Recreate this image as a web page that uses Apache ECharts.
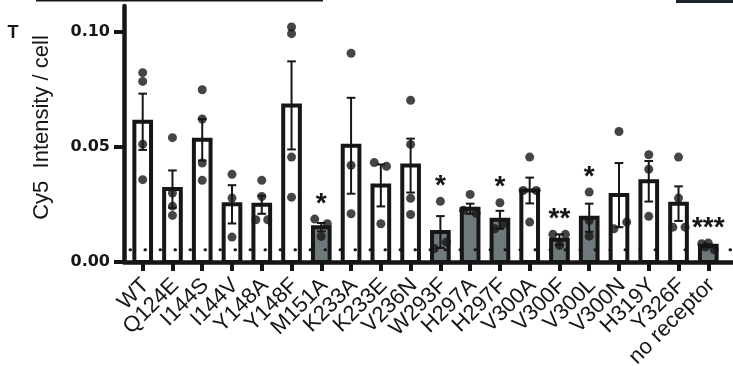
<!DOCTYPE html>
<html>
<head>
<meta charset="utf-8">
<script src="https://cdn.jsdelivr.net/npm/echarts@6/dist/echarts.min.js"></script>
<style>
  html, body { margin: 0; padding: 0; background: #ffffff; }
  #chart { width: 733px; height: 366px; }
</style>
</head>
<body>
<div id="chart"></div>
<script>
// Receptor variants along the x axis
const categories = ['WT', 'Q124E', 'I144S', 'I144V', 'Y148A', 'Y148F', 'M151A', 'K233A', 'K233E', 'V236N',
  'W293F', 'H297A', 'H297F', 'V300A', 'V300F', 'V300L', 'V300N', 'H319Y', 'Y326F', 'no receptor'];

// Mean Cy5 intensity per cell and its SEM
const means = [0.0608, 0.0316, 0.0530, 0.0250, 0.0248, 0.0679, 0.0151, 0.0504, 0.0332, 0.0418,
  0.0130, 0.0231, 0.0183, 0.0310, 0.0097, 0.0192, 0.0290, 0.0350, 0.0253, 0.0070];
const sems = [0.0122, 0.0081, 0.0090, 0.0083, 0.0039, 0.0191, 0.0018, 0.0208, 0.0091, 0.0117,
  0.0069, 0.0022, 0.0039, 0.0056, 0.0023, 0.0061, 0.0139, 0.0088, 0.0075, 0.0006];

// Variants that differ significantly from WT (shaded bars)
const shaded = [false, false, false, false, false, false, true, false, false, false,
  true, true, true, false, true, true, false, false, false, true];

// Individual replicates per variant
const replicates = [
  [0.0821, 0.0783, 0.0511, 0.0357],
  [0.0539, 0.0299, 0.0242, 0.0202],
  [0.0747, 0.0620, 0.0429, 0.0354],
  [0.0380, 0.0277, 0.0108],
  [0.0354, 0.0284, 0.0183, 0.0183],
  [0.1019, 0.0990, 0.0455, 0.0281],
  [0.0186, 0.0166, 0.0111],
  [0.0905, 0.0419, 0.0209],
  [0.0431, 0.0415, 0.0166],
  [0.0701, 0.0510, 0.0276, 0.0206],
  [0.0263, 0.0058, 0.0086],
  [0.0293, 0.0224, 0.0211],
  [0.0257, 0.0144, 0.0166],
  [0.0455, 0.0310, 0.0310, 0.0173],
  [0.0120, 0.0120, 0.0072],
  [0.0303, 0.0180, 0.0112],
  [0.0566, 0.0144, 0.0173],
  [0.0465, 0.0402, 0.0198],
  [0.0455, 0.0277, 0.0151, 0.0151],
  [0.0079, 0.0082, 0.0065, 0.0053]
];
// Sideways spread of overlapping replicates, in category units
const spread = [
  [0, 0, 0, 0],
  [0, 0, 0, 0],
  [0, 0, 0, 0],
  [0, 0, 0],
  [0, 0, -0.2, 0.2],
  [0, 0, 0, 0],
  [-0.22, 0.2, 0],
  [0, 0, 0],
  [-0.22, 0.19, 0],
  [0, 0, 0, 0],
  [0, -0.2, 0.2],
  [0, -0.22, 0.2],
  [0, -0.17, 0.1],
  [0, -0.22, 0.22, 0],
  [-0.22, 0.2, 0],
  [0, 0, 0],
  [0, -0.17, 0.26],
  [0, 0, 0],
  [0, 0, -0.19, 0.22],
  [-0.22, 0, -0.1, 0.2]
];

// Significance marks
const starCats = [6, 10, 12, 14, 15, 19];
const starText = ['*', '*', '*', '**', '*', '***'];

// Detection threshold (dotted line)
const threshold = 0.0053;

// y axis ticks
const yTicks = [0, 0.05, 0.10];

const FONT = '"Liberation Sans", Arial, Helvetica, sans-serif';
const NUM_FONT = '"DejaVu Sans", "Liberation Sans", Arial, sans-serif';
const INK = '#161616';
const GREY = '#6e797c';
const X_MIN = -0.628;
const X_MAX = 19.83;

const chart = echarts.init(document.getElementById('chart'), null, { renderer: 'canvas' });

const dotData = [];
replicates.forEach((vals, i) => {
  vals.forEach((v, k) => dotData.push([i + spread[i][k], v]));
});

const starData = starCats.map((c, k) => {
  const top = Math.max(means[c] + sems[c], ...replicates[c]);
  return [c, top, starText[k]];
});

const option = {
  animation: false,
  backgroundColor: '#ffffff',
  textStyle: { fontFamily: FONT },
  grid: { left: 124, right: 0, top: 6, bottom: 104, containLabel: false, outerBoundsMode: 'none' },
  xAxis: {
    type: 'value',
    min: X_MIN,
    max: X_MAX,
    splitLine: { show: false },
    axisLine: { show: true, onZero: false, lineStyle: { color: INK, width: 4.5 } },
    axisTick: {
      show: true, length: 9, inside: false,
      lineStyle: { color: INK, width: 4 },
      customValues: categories.map((c, i) => i)
    },
    axisLabel: { show: false }
  },
  yAxis: {
    type: 'value',
    min: 0,
    max: 0.111,
    splitLine: { show: false },
    axisLine: { show: true, onZero: false, lineStyle: { color: INK, width: 4.5 } },
    axisTick: {
      show: true, length: 10,
      lineStyle: { color: INK, width: 4 },
      customValues: yTicks
    },
    axisLabel: {
      margin: 14,
      fontSize: 16,
      fontWeight: 'bold',
      color: INK,
      fontFamily: NUM_FONT,
      showMinLabel: true,
      showMaxLabel: true,
      customValues: yTicks,
      formatter: v => v.toFixed(2)
    }
  },
  graphic: [
    { type: 'line', shape: { x1: 36, y1: 0.7, x2: 323, y2: 0.7 }, style: { stroke: INK, lineWidth: 1.5 }, silent: true },
    { type: 'rect', shape: { x: 676, y: 0, width: 57, height: 3 }, style: { fill: '#1c2230' }, silent: true },
    { type: 'text', x: 13, y: 33, style: { text: 'T', fontSize: 18, fontWeight: 'bold', fontFamily: FONT, fill: INK, align: 'center', verticalAlign: 'middle' } },
    { type: 'text', x: 42, y: 127.5, rotation: Math.PI / 2,
      style: { text: 'Cy5  Intensity / cell', fontSize: 22, fontFamily: FONT, fill: INK, align: 'center', verticalAlign: 'middle' } }
  ],
  series: [
    {
      name: 'mean',
      type: 'custom',
      z: 2,
      data: means.map((m, i) => [i, m, shaded[i] ? 1 : 0]),
      renderItem(params, api) {
        const i = api.value(0);
        const top = api.coord([i, api.value(1)]);
        const base = api.coord([i, 0]);
        const half = api.size([1, 0])[0] * 0.28;
        return {
          type: 'rect',
          shape: { x: top[0] - half, y: top[1], width: half * 2, height: base[1] - top[1] },
          style: { fill: api.value(2) ? GREY : '#ffffff', stroke: INK, lineWidth: 4 }
        };
      }
    },
    {
      name: 'sem',
      type: 'custom',
      z: 3,
      data: means.map((m, i) => [i, m - sems[i], m + sems[i]]),
      renderItem(params, api) {
        const i = api.value(0);
        const lo = api.coord([i, api.value(1)]);
        const hi = api.coord([i, api.value(2)]);
        const cap = api.size([1, 0])[0] * 0.145;
        const st = { stroke: INK, lineWidth: 2 };
        return {
          type: 'group',
          children: [
            { type: 'line', shape: { x1: hi[0], y1: hi[1], x2: lo[0], y2: lo[1] }, style: st },
            { type: 'line', shape: { x1: hi[0] - cap, y1: hi[1], x2: hi[0] + cap, y2: hi[1] }, style: st },
            { type: 'line', shape: { x1: lo[0] - cap, y1: lo[1], x2: lo[0] + cap, y2: lo[1] }, style: st }
          ]
        };
      }
    },
    {
      name: 'replicates',
      type: 'scatter',
      z: 4,
      symbol: 'circle',
      symbolSize: 9,
      itemStyle: { color: INK },
      data: dotData
    },
    {
      name: 'threshold',
      type: 'custom',
      z: 5,
      silent: true,
      data: [[threshold]],
      renderItem(params, api) {
        const a = api.coord([X_MIN, api.value(0)]);
        const b = api.coord([X_MAX, api.value(0)]);
        return {
          type: 'line',
          shape: { x1: a[0], y1: a[1], x2: b[0], y2: b[1] },
          style: { stroke: INK, lineWidth: 3, lineDash: [0.5, 14.5], lineCap: 'round', lineDashOffset: -6 }
        };
      }
    },
    {
      name: 'significance',
      type: 'custom',
      z: 6,
      data: starData,
      renderItem(params, api) {
        const p = api.coord([api.value(0), api.value(1)]);
        return {
          type: 'text',
          x: p[0],
          y: p[1] - 1,
          style: {
            text: starText[params.dataIndex],
            fontSize: 28,
            fontWeight: 'bold',
            fontFamily: FONT,
            fill: INK,
            align: 'center',
            verticalAlign: 'bottom'
          }
        };
      }
    },
    {
      // Variant names, slanted under each tick
      name: 'variantLabels',
      type: 'custom',
      z: 6,
      clip: false,
      silent: true,
      data: categories.map((c, i) => [i]),
      renderItem(params, api) {
        const p = api.coord([api.value(0), 0]);
        return {
          type: 'text',
          x: p[0] + 3,
          y: p[1] + 20,
          rotation: Math.PI / 4,
          style: {
            text: categories[params.dataIndex],
            fontSize: 22,
            fontFamily: FONT,
            fill: INK,
            align: 'right',
            verticalAlign: 'middle'
          }
        };
      }
    }
  ]
};

chart.setOption(option);
</script>
</body>
</html>
